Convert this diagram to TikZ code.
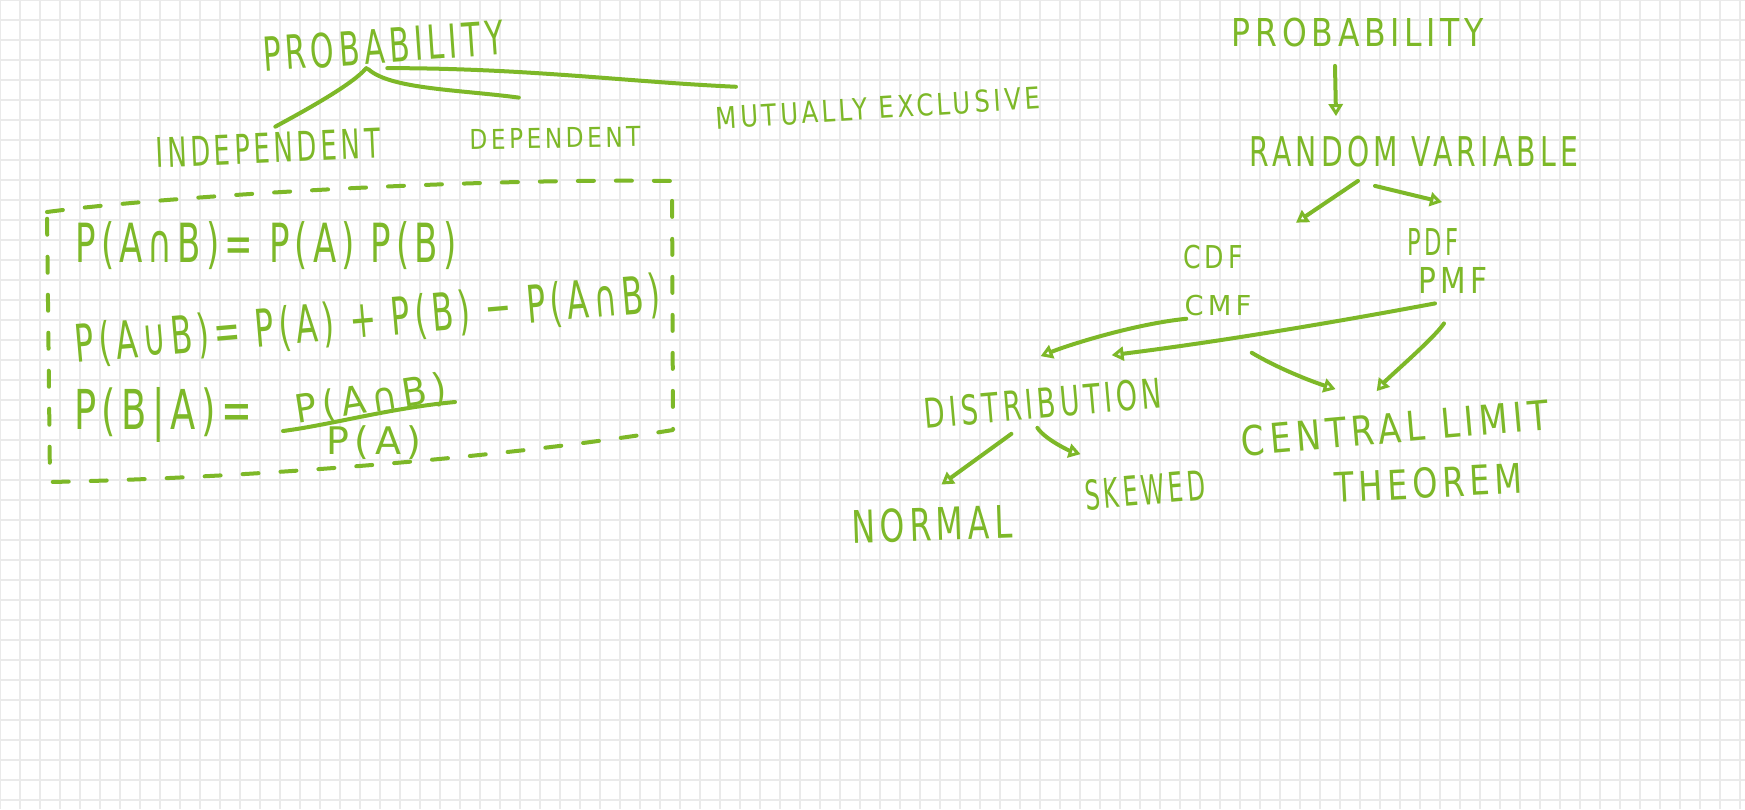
\documentclass[tikz,border=0pt]{standalone}
\usepackage{fontspec}
\newfontfamily\handfont[LetterSpace=15]{DejaVu Sans}
\usetikzlibrary{arrows.meta}
\definecolor{ink}{RGB}{125,184,40}
\definecolor{gridgray}{RGB}{234,234,234}
\tikzset{
  hand/.style={text=ink, inner sep=0pt, transform shape,
    font={\handfont\fontsize{#1}{#1}\selectfont}},
  link/.style={draw=ink, line width=2pt, line cap=round, line join=round},
  arr/.style={link, -{Triangle[open, length=6pt, width=7pt, line width=1.6pt]}},
  dashbox/.style={link, dash pattern=on 8pt off 11pt},
  gridline/.style={draw=gridgray, line width=0.6pt}
}

\begin{document}
\begin{tikzpicture}[x=0.5pt, y=-0.5pt]
  \useasboundingbox (0,0) rectangle (1745,809);
  \fill[white] (0,0) rectangle (1745,809);
  % squared paper
  \foreach \gx in {0,20,...,1740} \draw[gridline] (\gx,0) -- (\gx,809);
  \foreach \gy in {0,20,...,800} \draw[gridline] (0,\gy) -- (1745,\gy);

  % left: kinds of events
  \node[hand=23.5pt, rotate=4, xscale=.64] (probL) at (383,46) {PROBABILITY};
  \node[hand=20.5pt, rotate=2.5, xscale=.63] (indep) at (268,148) {INDEPENDENT};
  \node[hand=13.7pt, rotate=1, xscale=.85] (dep) at (555,138) {DEPENDENT};
  \node[hand=15pt, rotate=3.7, xscale=.81] (mutex) at (878,108) {MUTUALLY EXCLUSIVE};
  \draw[link] ([shift={(-18,4)}]probL.south) .. controls +(-15,18) and +(18,-10) .. ([shift={(8,-6)}]indep.north);
  \draw[link] ([shift={(-16,5)}]probL.south) .. controls +(22,20) and +(-60,-8) .. ([shift={(-36,-30)}]dep.north);
  \draw[link] ([shift={(3,4)}]probL.south) .. controls +(140,0) and +(-110,-5) .. ([shift={(21,-20)}]mutex.north west);

  % formulas in the dashed box
  \draw[dashbox] (47,212) .. controls (150,198) and (450,178) .. (672,181)
    -- (673,430) .. controls (500,458) and (250,478) .. (50,482) -- cycle;
  \node[hand=27pt, xscale=.63] (fAnd) at (266,246) {P(A∩B)= P(A) P(B)};
  \node[hand=26pt, rotate=5, xscale=.61] (fOr) at (368,321) {P(A∪B)= P(A) + P(B) − P(A∩B)};
  \node[hand=27.5pt, xscale=.67] (fCond) at (163,415) {P(B|A)=};
  \node[hand=19.5pt, rotate=9, xscale=.92] (num) at (371,400) {P(A∩B)};
  \node[hand=19pt, xscale=1] (den) at (374,443) {P(A)};
  \draw[link] (283,431) .. controls (330,425) and (390,408) .. (455,402);

  % right: random variables
  \node[hand=19.2pt, xscale=.82] (probR) at (1358,33) {PROBABILITY};
  \node[hand=20.5pt, xscale=.69] (rv) at (1414,152) {RANDOM VARIABLE};
  \node[hand=15.75pt, xscale=.80] (cdf) at (1213,257) {CDF};
  \node[hand=13.7pt, xscale=1] (cmf) at (1218,306) {CMF};
  \node[hand=18.5pt, xscale=.61] (pdf) at (1433,242) {PDF};
  \node[hand=17.85pt, xscale=.83] (pmf) at (1453,280) {PMF};
  \node[hand=20.5pt, rotate=5, xscale=.66] (dist) at (1043,403) {DISTRIBUTION};
  \node[hand=22.5pt, rotate=2, xscale=.70] (normal) at (932,524) {NORMAL};
  \node[hand=20.5pt, rotate=5, xscale=.58] (skewed) at (1145,490) {SKEWED};
  \node[hand=20.5pt, rotate=5, xscale=.82] (clt) at (1395,428) {CENTRAL LIMIT};
  \node[hand=20.5pt, rotate=3, xscale=.78] (thm) at (1428,483) {THEOREM};

  \draw[arr] ([shift={(-23,18)}]probR.south) -- ([shift={(-78,-20)}]rv.north);
  \draw[arr] ([shift={(-56,13)}]rv.south) -- ([shift={(83,-22)}]cdf.north);
  \draw[arr] ([shift={(-39,18)}]rv.south) -- ([shift={(9,-26)}]pdf.north);
  \draw[arr] ([shift={(2,2)}]cmf.south west) .. controls +(-50,5) and +(30,-12) .. ([shift={(-1,-31)}]dist.north);
  \draw[arr] ([shift={(-18,10)}]pmf.south) .. controls +(-80,15) and +(120,-15) .. ([shift={(70,-32)}]dist.north);
  \draw[arr] ([shift={(-9,30)}]pmf.south) .. controls +(-10,15) and +(12,-14) .. ([shift={(-17,-21)}]clt.north);
  \draw[arr] ([shift={(0,36)}]cmf.south east) .. controls +(25,15) and +(-25,-8) .. ([shift={(-58,-23)}]clt.north);
  \draw[arr] ([shift={(-33,15)}]dist.south) -- ([shift={(10,-22)}]normal.north);
  \draw[arr] ([shift={(-7,9)}]dist.south) .. controls +(8,12) and +(-10,-3) .. ([shift={(-63,-20)}]skewed.north);
\end{tikzpicture}
\end{document}
